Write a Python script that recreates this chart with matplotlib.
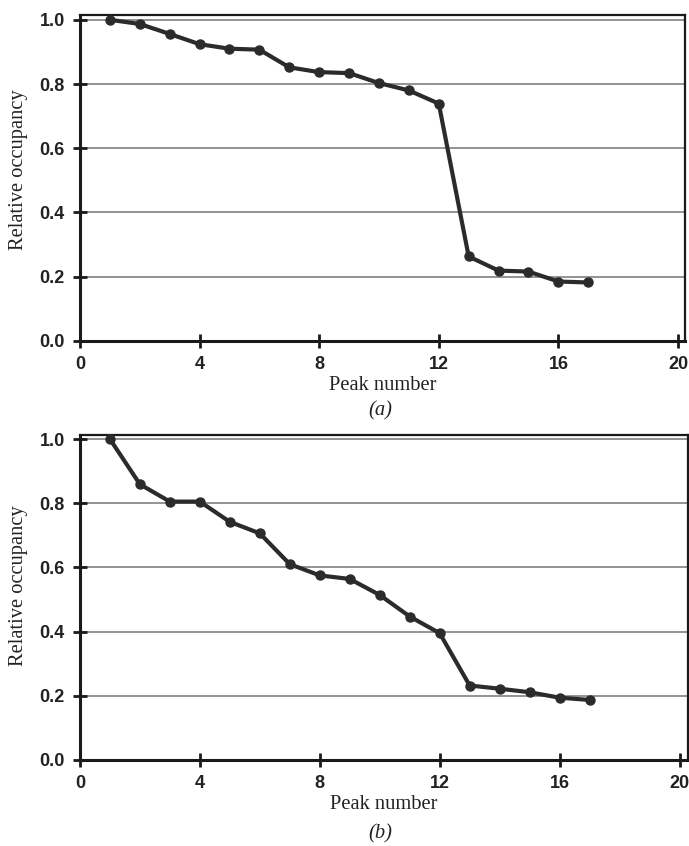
import numpy as np
import matplotlib.pyplot as plt

peaks = list(range(1, 18))
occ_a = [1.0, 0.987, 0.956, 0.924, 0.910, 0.907, 0.852, 0.837, 0.834, 0.803,
         0.780, 0.739, 0.263, 0.219, 0.216, 0.185, 0.182]
occ_b = [1.0, 0.859, 0.805, 0.805, 0.742, 0.706, 0.610, 0.575, 0.564, 0.514,
         0.447, 0.395, 0.232, 0.222, 0.211, 0.194, 0.187]
xticks = [0, 4, 8, 12, 16, 20]
yticks = [0.0, 0.2, 0.4, 0.6, 0.8, 1.0]

serif = 'Liberation Serif'
sans = 'Liberation Sans'

fig = plt.figure(figsize=(6.89, 8.46), dpi=100)


def panel(rect, y, xmax, ymax, caption, cap_y, ylab_y):
    ax = fig.add_axes(rect)
    for v in yticks[1:]:
        ax.axhline(v, color='#808080', lw=1.2, zorder=1)
    ax.plot(peaks, y, color='#2b2b2b', lw=3, marker='o', ms=6.5, zorder=3,
            clip_on=False)
    ax.set_xlim(0, xmax)
    ax.set_ylim(0, ymax)
    ax.set_xticks(xticks)
    ax.set_yticks(yticks)
    ax.set_yticklabels(['%.1f' % v for v in yticks])
    for s in ax.spines.values():
        s.set_linewidth(2.2)
        s.set_color('#1a1a1a')
    ax.spines['top'].set_linewidth(1.6)
    ax.spines['right'].set_linewidth(1.6)
    ax.tick_params(direction='inout', length=10, width=2, color='#1a1a1a',
                   pad=6)
    for lab in ax.get_xticklabels() + ax.get_yticklabels():
        lab.set_fontfamily(sans)
        lab.set_fontweight('bold')
        lab.set_fontsize(13)
        lab.set_color('#222222')
    ax.set_xlabel('Peak number', family=serif, fontsize=14.8, color='#222222',
                  labelpad=2)
    ax.set_ylabel('Relative occupancy', family=serif, fontsize=14.8,
                  color='#222222')
    ax.yaxis.set_label_coords(-0.086, ylab_y)
    fig.text(0.552, cap_y, caption, family=serif, style='italic',
             fontsize=14.8, ha='center', va='center', color='#222222')
    return ax


panel([0.116, 0.597, 0.878, 0.3853], occ_a, 20.23, 1.015, '(a)',
      1 - 411 / 846, 0.525)
panel([0.116, 0.1017, 0.882, 0.3841], occ_b, 20.27, 1.0125, '(b)',
      1 - 834 / 846, 0.535)

fig.savefig('out.png', dpi=100)
